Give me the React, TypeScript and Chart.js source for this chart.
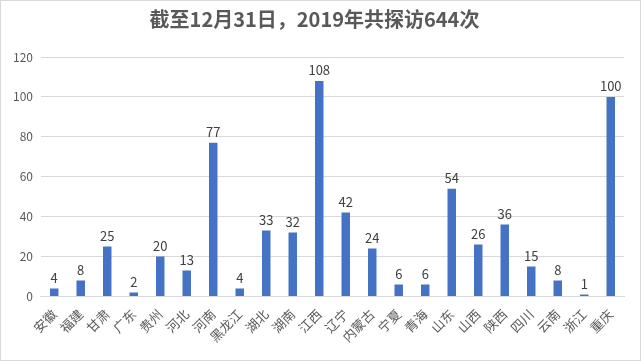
import React, { useEffect, useRef } from "react";
import { Chart, registerables } from "chart.js";

Chart.register(...registerables);

const categories = ["安徽", "福建", "甘肃", "广东", "贵州", "河北", "河南", "黑龙江", "湖北", "湖南", "江西", "辽宁", "内蒙古", "宁夏", "青海", "山东", "山西", "陕西", "四川", "云南", "浙江", "重庆"];
const visits = [4, 8, 25, 2, 20, 13, 77, 4, 33, 32, 108, 42, 24, 6, 6, 54, 26, 36, 15, 8, 1, 100];
const yTicks = [0, 20, 40, 60, 80, 100, 120];
const titleText = "截至12月31日，2019年共探访644次";

const FONT = "'Noto Sans CJK SC', 'Noto Sans', sans-serif";

const valueLabels = {
  id: "valueLabels",
  afterDatasetsDraw(chart: any) {
    const ctx = chart.ctx;
    const meta = chart.getDatasetMeta(0);
    ctx.save();
    ctx.fillStyle = "#404040";
    ctx.font = `13px ${FONT}`;
    ctx.textAlign = "center";
    ctx.textBaseline = "bottom";
    meta.data.forEach((bar: any, i: number) => {
      ctx.fillText(String(chart.data.datasets[0].data[i]), bar.x, bar.y - 4);
    });
    ctx.restore();
  },
};

export default function App() {
  const ref = useRef<HTMLCanvasElement | null>(null);
  useEffect(() => {
    document.body.style.margin = "0";
    const chart = new Chart(ref.current!, {
      type: "bar",
      data: {
        labels: categories,
        datasets: [
          {
            data: visits,
            backgroundColor: "#4472c4",
            barPercentage: 0.32,
            categoryPercentage: 1,
          },
        ],
      },
      plugins: [valueLabels],
      options: {
        animation: false,
        responsive: false,
        maintainAspectRatio: false,
        layout: { padding: { left: 4, right: 16, top: 0, bottom: 13 } },
        plugins: {
          legend: { display: false },
          tooltip: { enabled: false },
          title: {
            display: true,
            text: titleText,
            color: "#595959",
            font: { family: FONT, size: 20, weight: "bold" },
            padding: { top: 6, bottom: 26 },
          },
        },
        scales: {
          x: {
            grid: { display: false },
            border: { color: "#d9d9d9" },
            ticks: {
              color: "#595959",
              font: { family: FONT, size: 13 },
              maxRotation: 45,
              minRotation: 45,
              autoSkip: false,
              padding: 2,
            },
          },
          y: {
            min: 0,
            max: 120,
            afterBuildTicks: (axis: any) => {
              axis.ticks = yTicks.map((v) => ({ value: v }));
            },
            grid: { color: "#d9d9d9", drawTicks: false },
            border: { display: false },
            ticks: {
              color: "#595959",
              font: { family: FONT, size: 12 },
              padding: 8,
            },
          },
        },
      },
    });
    return () => chart.destroy();
  }, []);
  return (
    <div style={{ width: 639, height: 359, border: "1px solid #d9d9d9", background: "#fff" }}>
      <canvas ref={ref} width={639} height={359} />
    </div>
  );
}
